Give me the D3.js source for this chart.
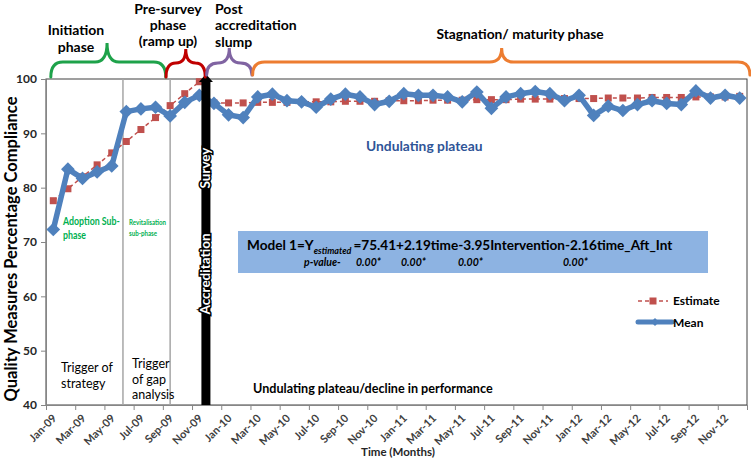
<!DOCTYPE html>
<html><head><meta charset="utf-8">
<script src="https://cdn.jsdelivr.net/npm/d3@7"></script>
<style>
body{margin:0;background:#fff;}
text{font-family:Lato,"Open Sans",sans-serif;}
</style>
</head><body>
<svg id="c" width="751" height="466"></svg>
<script>
const months = ["Jan-09","Feb-09","Mar-09","Apr-09","May-09","Jun-09","Jul-09","Aug-09","Sep-09","Oct-09","Nov-09","Dec-09",
"Jan-10","Feb-10","Mar-10","Apr-10","May-10","Jun-10","Jul-10","Aug-10","Sep-10","Oct-10","Nov-10","Dec-10",
"Jan-11","Feb-11","Mar-11","Apr-11","May-11","Jun-11","Jul-11","Aug-11","Sep-11","Oct-11","Nov-11","Dec-11",
"Jan-12","Feb-12","Mar-12","Apr-12","May-12","Jun-12","Jul-12","Aug-12","Sep-12","Oct-12","Nov-12","Dec-12"];
const meanValues = [72.3,83.4,81.7,82.9,84.0,94.0,94.5,94.8,93.2,95.7,97.0,95.5,
93.4,92.9,96.7,97.2,96.0,95.8,94.8,96.3,97.2,96.7,95.3,95.9,
97.3,97.0,97.0,96.7,95.8,97.6,94.6,96.7,97.3,97.7,97.3,96.0,
97.0,93.3,95.0,94.2,95.3,96.0,95.5,95.3,97.8,96.5,97.0,96.5];
const estimateValues = [77.6,79.8,82.0,84.2,86.4,88.5,90.7,92.9,95.1,97.3,99.5,95.6,
95.6,95.6,95.7,95.7,95.7,95.8,95.8,95.8,95.9,95.9,95.9,96.0,
96.0,96.0,96.1,96.1,96.1,96.2,96.2,96.2,96.3,96.3,96.3,96.4,
96.4,96.4,96.5,96.5,96.5,96.6,96.6,96.6,96.7,96.7,96.7,96.8];
const interventionIndex = 11;
const yTicks = [40,50,60,70,80,90,100];
const xTickLabels = months.filter((m,i)=>i%2===0);

const svg = d3.select("#c");
const L=46, R=747, T=79, B=405;
const x = d3.scaleLinear().domain([0,48]).range([L,R]);
const y = d3.scaleLinear().domain([40,100]).range([B,T]);
const cx = i => x(i+0.5);

// plot frame
svg.append("rect").attr("x",L).attr("y",T).attr("width",R-L).attr("height",B-T)
  .attr("fill","none").attr("stroke","#404040").attr("stroke-width",1);

// y axis
const ya = svg.append("g").attr("transform",`translate(${L},0)`)
  .call(d3.axisLeft(y).tickValues(yTicks).tickSize(5).tickSizeOuter(0).tickPadding(4));
ya.select(".domain").attr("stroke","#868686");
ya.selectAll(".tick line").attr("stroke","#868686");
ya.selectAll(".tick text").attr("font-family","Lato").attr("font-weight","bold").attr("font-size",12).attr("fill","#262626");

// x axis
const xa = svg.append("g").attr("transform",`translate(0,${B})`)
  .call(d3.axisBottom(x).tickValues(d3.range(0,49,2)).tickSize(5).tickSizeOuter(0).tickFormat(""));
xa.select(".domain").attr("stroke","#868686");
xa.selectAll(".tick line").attr("stroke","#868686");
svg.append("g").selectAll("text").data(xTickLabels).join("text")
  .attr("transform",(d,k)=>`translate(${cx(k*2)+4},${B+14}) rotate(-45)`)
  .attr("text-anchor","end").attr("font-weight","bold").attr("font-size",11).attr("fill","#404040")
  .text(d=>d);

// axis titles
svg.append("text").attr("transform",`translate(17,249) rotate(-90)`).attr("text-anchor","middle")
  .attr("font-weight","bold").attr("font-size",16.5).attr("fill","#000").text("Quality Measures Percentage Compliance");
svg.append("text").attr("x",398).attr("y",456).attr("text-anchor","middle")
  .attr("font-weight","bold").attr("font-size",11.5).attr("fill","#262626").text("Time (Months)");

// sub-phase dividers
[5.27, 8.5].forEach(v=>{
  svg.append("line").attr("x1",x(v)).attr("x2",x(v)).attr("y1",T).attr("y2",B)
    .attr("stroke","#a6a6a6").attr("stroke-width",1.5);
});

// estimate series
const estData = estimateValues.map((v,i)=>({i,v}));
const lineGen = d3.line().x(d=>cx(d.i)).y(d=>y(d.v));
[estData.slice(0,interventionIndex), estData.slice(interventionIndex)].forEach(seg=>{
  svg.append("path").attr("d",lineGen(seg)).attr("fill","none")
    .attr("stroke","#c0504d").attr("stroke-width",1.5).attr("stroke-dasharray","4,3");
});
svg.append("g").selectAll("rect").data(estData).join("rect")
  .attr("x",d=>cx(d.i)-3.5).attr("y",d=>y(d.v)-3.5).attr("width",7).attr("height",7)
  .attr("fill","#c0504d");

// mean series
const meanData = meanValues.map((v,i)=>({i,v}));
svg.append("path").attr("d",lineGen(meanData)).attr("fill","none")
  .attr("stroke","#4f81bd").attr("stroke-width",5.5).attr("stroke-linejoin","round");
const dia = d3.symbol().type(d3.symbolDiamond2).size(120);
svg.append("g").selectAll("path").data(meanData).join("path")
  .attr("transform",d=>`translate(${cx(d.i)},${y(d.v)})`).attr("d",dia).attr("fill","#4f81bd");

// accreditation survey bar
const bx = x(10.95);
svg.append("rect").attr("x",bx-4.5).attr("y",T+2).attr("width",9).attr("height",B-T-2).attr("fill","#000");
svg.append("path").attr("d",`M${bx-7},${T+3} L${bx},${T-5} L${bx+7},${T+3} Z`).attr("fill","#000");
[["Survey",168],["Accreditation",274]].forEach(([t,cy])=>{
  svg.append("text").attr("transform",`translate(${bx+4.5},${cy}) rotate(-90)`).attr("text-anchor","middle")
    .attr("font-weight","bold").attr("font-size",13.5).attr("fill","#fff")
    .attr("stroke","#000").attr("stroke-width",3).attr("paint-order","stroke").text(t);
});

// braces
function brace(a,b,tip,yBase,yMid,yTip,color){
  const x1=x(a), x2=x(b), xt=x(tip), r=Math.min(12,(x2-x1)/4);
  const d=`M${x1},${yBase} Q${x1},${yMid} ${x1+r},${yMid} L${xt-r},${yMid} Q${xt},${yMid} ${xt},${yTip} Q${xt},${yMid} ${xt+r},${yMid} L${x2-r},${yMid} Q${x2},${yMid} ${x2},${yBase}`;
  svg.append("path").attr("d",d).attr("fill","none").attr("stroke",color).attr("stroke-width",3).attr("stroke-linecap","round");
}
brace(0.33,8.2,4.18,77,62,43,"#1ea24a");
brace(8.22,10.9,9.57,77,63,49,"#c00000");
brace(11.0,14.1,12.55,75,63,48,"#8064a2");
brace(14.15,48.2,31.2,75,62,48,"#ed7d31");

// text helper
function lines(arr,xp,y0,dy,opts){
  arr.forEach((t,k)=>{
    const sx = opts.sx || 1;
    svg.append("text").attr("transform",`translate(${xp},${y0+k*dy}) scale(${sx},1)`)
      .attr("text-anchor",opts.anchor||"start")
      .attr("font-weight",opts.weight||"bold").attr("font-size",opts.size).attr("fill",opts.fill||"#000")
      .attr("font-style",opts.style||"normal").text(t);
  });
}
lines(["Initiation","phase"],76,35,16.5,{anchor:"middle",size:14});
lines(["Pre-survey","phase","(ramp up)"],168,13.5,16,{anchor:"middle",size:14});
lines(["Post","accreditation","slump"],215,13.5,16.5,{size:14});
lines(["Stagnation/ maturity phase"],520,39,0,{anchor:"middle",size:13.8});

// sub-phase labels
lines(["Adoption Sub-","phase"],63,225,14,{size:11,fill:"#00b050",sx:0.8});
lines(["Revitalisation"," sub-phase"],129,225,10.5,{size:7.5,fill:"#00b050",sx:0.82});
lines(["Undulating plateau"],366,151,0,{size:13.8,fill:"#2f5597"});
lines(["Trigger of","strategy"],61,372,16,{size:12.5,weight:"normal"});
lines(["Trigger","of gap","analysis"],132,368,15.5,{size:12.5,weight:"normal"});
lines(["Undulating plateau/decline in performance"],253,393,0,{size:12.6,weight:"bold"});

// model box
svg.append("rect").attr("x",238).attr("y",231).attr("width",470).attr("height",42).attr("fill","#8db3e2");
const mt = svg.append("text").attr("x",247).attr("y",250).attr("font-weight","bold").attr("font-size",13.6).attr("fill","#000");
mt.append("tspan").text("Model 1=Y");
mt.append("tspan").attr("font-size",9).attr("font-style","italic").attr("dy",4).text("estimated");
mt.append("tspan").attr("dy",-4).attr("dx",2).text("=75.41+2.19time-3.95Intervention-2.16time_Aft_Int");
const pv = [["p-value-",304],["0.00*",356],["0.00*",401],["0.00*",458],["0.00*",563]];
pv.forEach(([t,xp])=>{
  svg.append("text").attr("x",xp).attr("y",266).attr("font-weight","bold").attr("font-style","italic")
    .attr("font-size",10.5).attr("fill","#000").text(t);
});

// legend
svg.append("line").attr("x1",638).attr("x2",668).attr("y1",301).attr("y2",301)
  .attr("stroke","#c0504d").attr("stroke-width",1.5).attr("stroke-dasharray","4,3");
svg.append("rect").attr("x",649.5).attr("y",297.5).attr("width",7).attr("height",7).attr("fill","#c0504d");
svg.append("text").attr("x",673).attr("y",305).attr("font-weight","bold").attr("font-size",12).text("Estimate");
svg.append("line").attr("x1",638).attr("x2",672).attr("y1",322).attr("y2",322)
  .attr("stroke","#4f81bd").attr("stroke-width",5).attr("stroke-linecap","round");
svg.append("path").attr("transform","translate(655,322)").attr("d",d3.symbol().type(d3.symbolDiamond2).size(40)).attr("fill","#4f81bd");
svg.append("text").attr("x",673).attr("y",327).attr("font-weight","bold").attr("font-size",12).text("Mean");
</script>
</body></html>
